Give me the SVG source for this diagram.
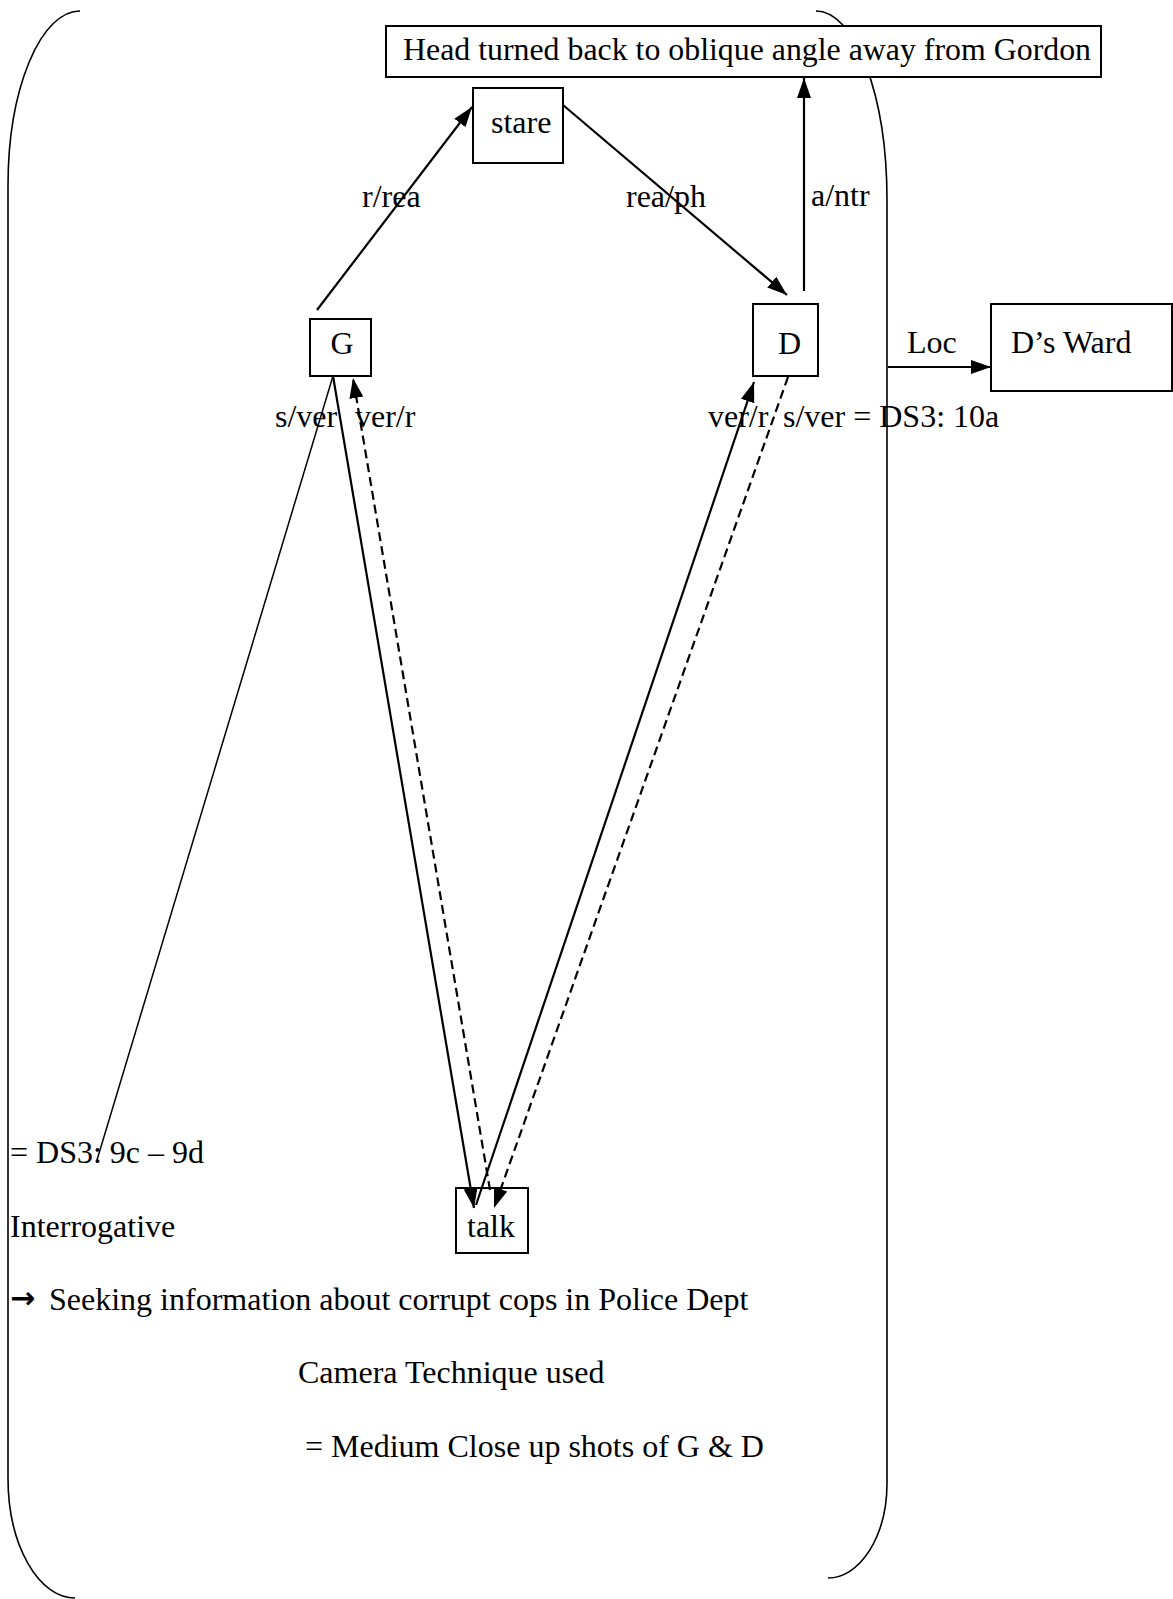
<svg xmlns="http://www.w3.org/2000/svg" width="1173" height="1599" viewBox="0 0 1173 1599">
<style>
text { font-family: "Liberation Serif", "Times New Roman", serif; font-size: 32px; fill: #000; }
.box { fill: #fff; stroke: #000; stroke-width: 2; }
.bracket { fill: none; stroke: #000; stroke-width: 1.6; }
.conn { stroke: #000; stroke-width: 2.2; fill: none; }
.thin { stroke: #000; stroke-width: 1.5; fill: none; }
.dash { stroke-dasharray: 9 5; }
.sym { font-family: "DejaVu Sans", sans-serif; font-size: 30px; font-weight: bold; }
</style>
<defs>
<marker id="arr" markerUnits="userSpaceOnUse" markerWidth="22" markerHeight="16" refX="20" refY="7" orient="auto">
<path d="M0,0 L20,7 L0,14 z" fill="#000"/>
</marker>
</defs>
<rect width="1173" height="1599" fill="#fff"/>
<g id="brackets">
<path class="bracket" d="M80,11 A72,175 0 0 0 8,186 L8,1478 A67,120 0 0 0 75,1598"/>
<path class="bracket" d="M816,11 A71,189 0 0 1 887,200 L887,1483 A59,95 0 0 1 828,1578"/>
</g>
<g id="node-head">
<rect class="box" x="386" y="26" width="715" height="51"/>
<text x="403" y="60" textLength="688" lengthAdjust="spacingAndGlyphs">Head turned back to oblique angle away from Gordon</text>
</g>
<g id="node-stare">
<rect class="box" x="473" y="88" width="90" height="75"/>
<text x="491" y="133">stare</text>
</g>
<g id="node-G">
<rect class="box" x="310" y="319" width="61" height="57"/>
<text x="342" y="354" text-anchor="middle">G</text>
</g>
<g id="node-D">
<rect class="box" x="753" y="304" width="65" height="72"/>
<text x="778" y="354">D</text>
</g>
<g id="node-ward">
<rect class="box" x="991" y="304" width="181" height="87"/>
<text x="1011" y="353">D’s Ward</text>
</g>
<g id="node-talk">
<rect class="box" x="456" y="1188" width="72" height="65"/>
<text x="467" y="1237">talk</text>
</g>
<g id="connectors">
<line class="conn" x1="317" y1="310" x2="472" y2="107" marker-end="url(#arr)"/>
<line class="conn" x1="563" y1="105" x2="787" y2="295" marker-end="url(#arr)"/>
<line class="conn" x1="804" y1="291" x2="804" y2="78" marker-end="url(#arr)"/>
<line class="conn" x1="333" y1="376" x2="474" y2="1208" marker-end="url(#arr)"/>
<line class="conn dash" x1="490" y1="1190" x2="353" y2="378" marker-end="url(#arr)"/>
<line class="conn" x1="476" y1="1205" x2="754" y2="382" marker-end="url(#arr)"/>
<line class="conn dash" x1="788" y1="377" x2="494" y2="1208" marker-end="url(#arr)"/>
<line class="thin" x1="333" y1="376" x2="97" y2="1160"/>
<line class="conn" x1="888" y1="367" x2="991" y2="367" marker-end="url(#arr)"/>
<text x="362" y="207">r/rea</text>
<text x="626" y="207">rea/ph</text>
<text x="811" y="206">a/ntr</text>
<text x="275" y="427">s/ver</text>
<text x="355" y="427">ver/r</text>
<text x="708" y="427">ver/r</text>
<text x="783" y="427">s/ver = DS3: 10a</text>
<text x="907" y="353">Loc</text>
</g>
<g id="notes">
<text x="10" y="1163">= DS3: 9c – 9d</text>
<text x="10" y="1237">Interrogative</text>
<text class="sym" x="10" y="1308">→</text>
<text x="49" y="1310">Seeking information about corrupt cops in Police Dept</text>
<text x="298" y="1383">Camera Technique used</text>
<text x="305" y="1457">= Medium Close up shots of G &amp; D</text>
</g>
</svg>
